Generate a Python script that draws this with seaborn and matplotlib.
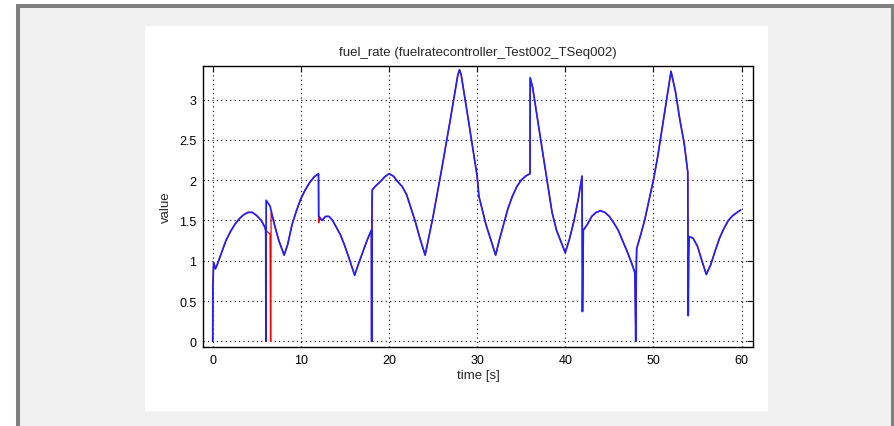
import numpy as np
import pandas as pd
import matplotlib
matplotlib.use("Agg")
import matplotlib.pyplot as plt
from matplotlib.patches import Rectangle
import seaborn as sns

# Messwerte (blau = Simulation, rot = Referenz)
time_blue = [0, 0.02, 0.1, 0.3, 0.5, 1, 1.5, 2, 2.5, 3, 3.5, 4, 4.5, 5, 5.5, 5.9, 6.0, 6.02, 6.03,
             6.05, 6.06, 6.5, 7, 7.5, 8.1, 8.5, 9, 9.5, 10, 10.5, 11, 11.5, 12, 12.02, 12.4, 12.8,
             13.2, 13.6, 14, 14.5, 15, 15.5, 16.1, 16.5, 17, 17.5, 18, 18.02, 18.05, 18.07, 18.1,
             18.5, 19, 19.5, 20, 20.5, 21, 21.5, 22, 22.5, 23, 23.5, 24.1, 25, 26, 27, 27.8, 28.0,
             28.2, 29, 30, 30.2, 31, 32.1, 32.5, 33, 33.5, 34, 34.5, 35, 35.5, 36, 36.02, 36.3, 37,
             38, 38.5, 39, 40, 40.5, 41, 41.5, 41.9, 41.95, 42.05, 42.5, 43, 43.5, 44, 44.5, 45,
             45.5, 46, 46.5, 47, 47.5, 47.9, 48, 48.05, 48.1, 48.5, 49, 49.5, 50, 50.5, 51, 51.5,
             52, 52.5, 53, 53.5, 53.9, 53.95, 54.0, 54.05, 54.5, 55, 55.5, 56.0, 56.5, 57, 57.5,
             58, 58.5, 59, 59.5, 59.9]
fuel_blue = [0, 0.68, 0.98, 0.9, 0.95, 1.1, 1.25, 1.36, 1.45, 1.52, 1.57, 1.6, 1.6, 1.56, 1.5, 1.42,
             1.38, 1.25, 0, 0, 1.75, 1.68, 1.45, 1.25, 1.07, 1.2, 1.45, 1.62, 1.77, 1.88, 1.97, 2.04,
             2.08, 1.55, 1.5, 1.55, 1.55, 1.5, 1.42, 1.32, 1.18, 1.02, 0.82, 0.95, 1.1, 1.25, 1.38,
             0, 0, 1.68, 1.88, 1.93, 1.98, 2.04, 2.08, 2.05, 1.98, 1.92, 1.82, 1.65, 1.48, 1.28,
             1.07, 1.55, 2.15, 2.78, 3.3, 3.37, 3.3, 2.75, 2.05, 1.8, 1.45, 1.07, 1.25, 1.45, 1.65,
             1.8, 1.92, 2.0, 2.05, 2.08, 3.27, 3.15, 2.65, 1.95, 1.6, 1.38, 1.1, 1.28, 1.5, 1.78,
             2.05, 0.37, 1.38, 1.45, 1.55, 1.6, 1.62, 1.6, 1.55, 1.47, 1.38, 1.25, 1.12, 0.98, 0.85,
             0, 0.85, 1.15, 1.3, 1.5, 1.75, 2.0, 2.3, 2.65, 3.0, 3.35, 3.1, 2.75, 2.45, 2.1, 0.32,
             1.05, 1.3, 1.28, 1.18, 1.0, 0.83, 0.95, 1.12, 1.28, 1.4, 1.5, 1.56, 1.6, 1.63]

time_red = [0, 0.02, 0.1, 0.3, 0.5, 1, 1.5, 2, 2.5, 3, 3.5, 4, 4.5, 5, 5.5, 5.9, 6.0, 6.3, 6.5,
            6.55, 6.6, 6.62, 7, 7.5, 8.1, 8.5, 9, 9.5, 10, 10.5, 11, 11.5, 12, 12.02, 12.1, 12.4,
            12.8, 13.2, 13.6, 14, 14.5, 15, 15.5, 16.1, 16.5, 17, 17.5, 18, 18.02, 18.05, 18.07,
            18.1, 18.5, 19, 19.5, 20, 20.5, 21, 21.5, 22, 22.5, 23, 23.5, 24.1, 25, 26, 27, 27.8,
            28.0, 28.2, 29, 30, 30.2, 31, 32.1, 32.5, 33, 33.5, 34, 34.5, 35, 35.5, 36, 36.02,
            36.3, 37, 38, 38.5, 39, 40, 40.5, 41, 41.5, 41.9, 41.95, 42.05, 42.5, 43, 43.5, 44,
            44.5, 45, 45.5, 46, 46.5, 47, 47.5, 47.9, 48, 48.05, 48.1, 48.5, 49, 49.5, 50, 50.5,
            51, 51.5, 52, 52.5, 53, 53.5, 53.9, 53.95, 54.0, 54.05, 54.5, 55, 55.5, 56.0, 56.5,
            57, 57.5, 58, 58.5, 59, 59.5, 59.9]
fuel_red = [0, 0.68, 0.98, 0.9, 0.95, 1.1, 1.25, 1.36, 1.45, 1.52, 1.57, 1.6, 1.6, 1.56, 1.5, 1.42,
            1.38, 1.35, 1.33, 0, 0, 1.6, 1.45, 1.25, 1.07, 1.2, 1.45, 1.62, 1.77, 1.88, 1.97, 2.04,
            2.08, 1.47, 1.55, 1.5, 1.55, 1.55, 1.5, 1.42, 1.32, 1.18, 1.02, 0.82, 0.95, 1.1, 1.25,
            1.38, 0, 0, 1.68, 1.88, 1.93, 1.98, 2.04, 2.08, 2.05, 1.98, 1.92, 1.82, 1.65, 1.48,
            1.28, 1.07, 1.55, 2.15, 2.78, 3.3, 3.37, 3.3, 2.75, 2.05, 1.8, 1.45, 1.07, 1.25, 1.45,
            1.65, 1.8, 1.92, 2.0, 2.05, 2.08, 3.27, 3.15, 2.65, 1.95, 1.6, 1.38, 1.1, 1.28, 1.5,
            1.78, 2.05, 0.37, 1.38, 1.45, 1.55, 1.6, 1.62, 1.6, 1.55, 1.47, 1.38, 1.25, 1.12, 0.98,
            0.85, 0, 0.85, 1.15, 1.3, 1.5, 1.75, 2.0, 2.3, 2.65, 3.0, 3.35, 3.1, 2.75, 2.45, 2.1,
            0.32, 1.05, 1.3, 1.28, 1.18, 1.0, 0.83, 0.95, 1.12, 1.28, 1.4, 1.5, 1.56, 1.6, 1.63]

x_ticks = [0, 10, 20, 30, 40, 50, 60]
y_ticks = [0, 0.5, 1, 1.5, 2, 2.5, 3]
y_ticklabels = ["0", "0.5", "1", "1.5", "2", "2.5", "3"]

df_red = pd.DataFrame({"time": time_red, "value": fuel_red})
df_blue = pd.DataFrame({"time": time_blue, "value": fuel_blue})

sns.set_theme(style="white")
plt.rcParams["font.family"] = ["Liberation Sans", "DejaVu Sans"]

fig = plt.figure(figsize=(8.94, 4.27), dpi=100)
fig.patch.set_facecolor("white")

# grauer Fensterrahmen + weisses Panel (Pixelkoordinaten)
W, H = 894, 427
fig.patches.append(Rectangle((18 / W, -0.1), (893 - 18) / W, (H - 7) / H + 0.1,
                             transform=fig.transFigure, facecolor="#f0f0f0",
                             edgecolor="#808080", linewidth=2.9, zorder=-10))
fig.patches.append(Rectangle((145 / W, 1 - 412 / H), (768 - 145) / W, (412 - 27) / H,
                             transform=fig.transFigure, facecolor="white",
                             edgecolor="none", zorder=-9))

ax = fig.add_axes([203.3 / W, 1 - 348 / H, (753 - 203.3) / W, (348 - 66.7) / H])
ax.set_facecolor("white")
ax.set_zorder(1)

sns.lineplot(data=df_red, x="time", y="value", color="#ff0000", estimator=None,
             sort=False, linewidth=0.9, ax=ax)
sns.lineplot(data=df_blue, x="time", y="value", color="#2020ff", estimator=None,
             sort=False, linewidth=1.25, ax=ax)

ax.set_xlim(-1.07, 61.3)
ax.set_ylim(-0.07, 3.42)
ax.set_xticks(x_ticks)
ax.set_yticks(y_ticks)
ax.set_yticklabels(y_ticklabels)
ax.grid(True, color="black", linestyle=(0, (1, 3)), linewidth=0.8)
ax.tick_params(direction="in", length=4, width=0.8, top=True, right=True,
               labelsize=9, colors="black", pad=5)
for s in ax.spines.values():
    s.set_color("black")
    s.set_linewidth(1.0)

ax.set_title("fuel_rate (fuelratecontroller_Test002_TSeq002)", fontsize=9.5, pad=8)
ax.set_xlabel("time [s]", fontsize=9.5, labelpad=2)
ax.set_ylabel("value", fontsize=9.5, labelpad=5)

fig.savefig("out.png", dpi=100)
